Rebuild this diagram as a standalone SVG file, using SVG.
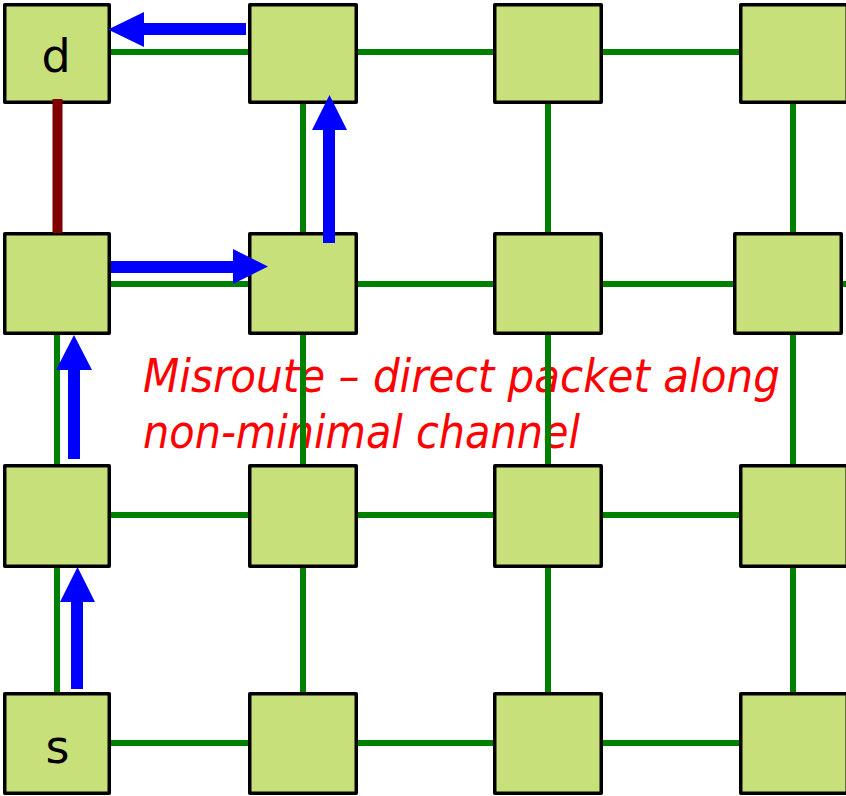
<svg xmlns="http://www.w3.org/2000/svg" width="846" height="796" viewBox="0 0 846 796">
<style>
.node rect{fill:#C8E07A;stroke:#000;stroke-width:3.5;stroke-linejoin:round}
.lbl{font-family:"DejaVu Sans","Liberation Sans",sans-serif;font-size:46px;fill:#000;text-anchor:middle}
.link{stroke:#008000;stroke-width:6;fill:none}
.bad{stroke:#800000;stroke-width:10;fill:none}
.arrow{fill:#0000FF}
.note{font-family:"DejaVu Sans","Liberation Sans",sans-serif;font-style:italic;font-size:46px;fill:#FF0000}
</style>
<rect width="846" height="796" fill="#fff"/>
<g id="caption">
<text class="note" x="143" y="392" textLength="637" lengthAdjust="spacingAndGlyphs">Misroute – direct packet along</text>
<text class="note" x="143" y="448" textLength="437" lengthAdjust="spacingAndGlyphs">non-minimal channel</text>
</g>
<g id="connectors">
<line class="link" x1="57" y1="52" x2="846" y2="52"/>
<line class="link" x1="57" y1="284" x2="846" y2="284"/>
<line class="link" x1="57" y1="515" x2="846" y2="515"/>
<line class="link" x1="57" y1="743" x2="846" y2="743"/>
<line class="link" x1="57" y1="284" x2="57" y2="743"/>
<line class="link" x1="303" y1="52" x2="303" y2="743"/>
<line class="link" x1="548" y1="52" x2="548" y2="743"/>
<line class="link" x1="793" y1="52" x2="793" y2="743"/>
</g>
<g id="n00" class="node"><rect x="4.75" y="4.75" width="104.5" height="97.5"/><text class="lbl" x="56" y="72">d</text></g>
<g id="n10" class="node"><rect x="249.75" y="4.75" width="106.5" height="97.5"/></g>
<g id="n20" class="node"><rect x="494.75" y="4.75" width="106.5" height="97.5"/></g>
<g id="n30" class="node"><rect x="740.75" y="4.75" width="106.5" height="97.5"/></g>
<g id="n01" class="node"><rect x="4.75" y="233.75" width="104.5" height="99.5"/></g>
<g id="n11" class="node"><rect x="249.75" y="233.75" width="106.5" height="99.5"/></g>
<g id="n21" class="node"><rect x="494.75" y="233.75" width="106.5" height="99.5"/></g>
<g id="n31" class="node"><rect x="734.75" y="233.75" width="106.5" height="99.5"/></g>
<g id="n02" class="node"><rect x="4.75" y="465.75" width="104.5" height="100.5"/></g>
<g id="n12" class="node"><rect x="249.75" y="465.75" width="106.5" height="100.5"/></g>
<g id="n22" class="node"><rect x="494.75" y="465.75" width="106.5" height="100.5"/></g>
<g id="n32" class="node"><rect x="740.75" y="465.75" width="106.5" height="100.5"/></g>
<g id="n03" class="node"><rect x="4.75" y="693.75" width="104.5" height="99.5"/><text class="lbl" x="57.5" y="763">s</text></g>
<g id="n13" class="node"><rect x="249.75" y="693.75" width="106.5" height="99.5"/></g>
<g id="n23" class="node"><rect x="494.75" y="693.75" width="106.5" height="99.5"/></g>
<g id="n33" class="node"><rect x="740.75" y="693.75" width="106.5" height="99.5"/></g>
<g id="route">
<line class="bad" x1="57.5" y1="99" x2="57.5" y2="233"/>
<polygon class="arrow" points="246,23 144,23 144,12 108,29.5 144,47 144,35 246,35"/>
<polygon class="arrow" points="111,261 233,261 233,249 268,266.5 233,284 233,273 111,273"/>
<polygon class="arrow" points="323,243 323,130 312,130 329.5,95 347,130 335,130 335,243"/>
<polygon class="arrow" points="68,459 68,370 56,370 74,335 92,370 80,370 80,459"/>
<polygon class="arrow" points="71,689 71,602 60,602 77.5,567 95,602 83,602 83,689"/>
</g>
</svg>
